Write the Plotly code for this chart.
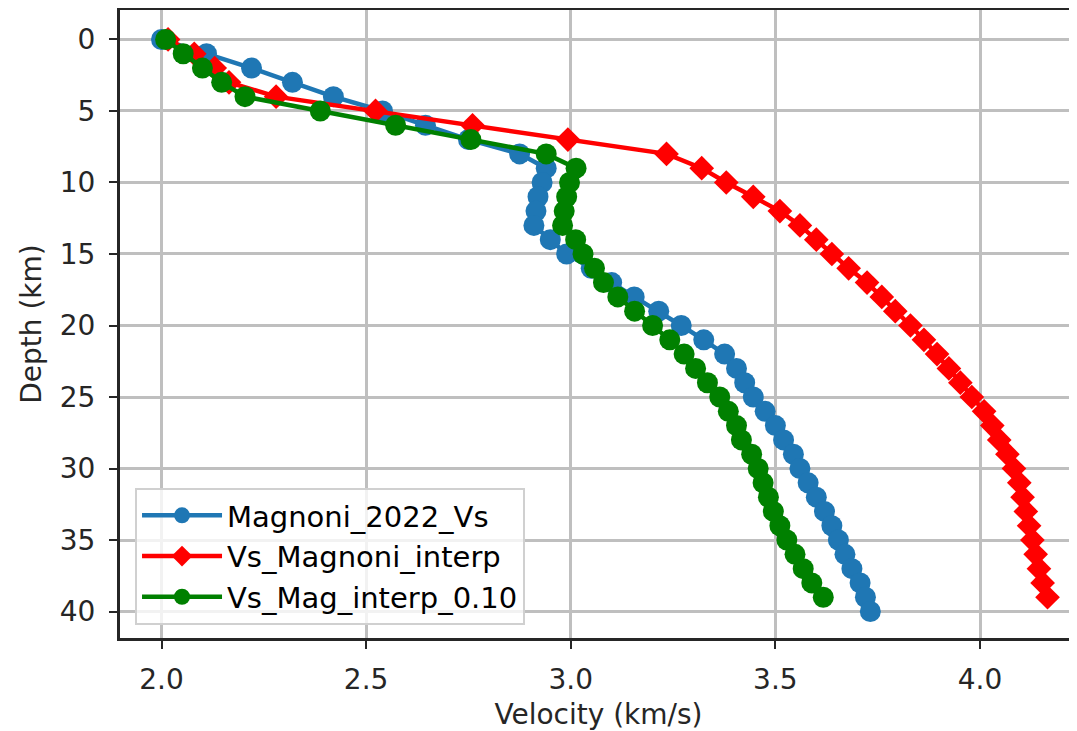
import plotly.graph_objects as go

depth_blue = list(range(0, 41))
vs_magnoni_2022 = [2.00, 2.11, 2.22, 2.32, 2.42, 2.54, 2.645, 2.75, 2.875, 2.94,
                   2.93, 2.92, 2.915, 2.91, 2.95, 2.99, 3.05, 3.10, 3.155, 3.215,
                   3.27, 3.325, 3.376, 3.405, 3.425, 3.446, 3.475, 3.50, 3.52, 3.544,
                   3.56, 3.58, 3.60, 3.62, 3.638, 3.654, 3.67, 3.687, 3.707, 3.72,
                   3.732]

depth_red = list(range(0, 40))
vs_magnoni_interp = [2.016, 2.08, 2.13, 2.165, 2.28, 2.523, 2.76, 2.993, 3.234, 3.32,
                     3.38, 3.446, 3.511, 3.56, 3.60, 3.638, 3.679, 3.724, 3.76, 3.793,
                     3.83, 3.863, 3.895, 3.924, 3.952, 3.98, 4.01, 4.03, 4.047, 4.067,
                     4.083, 4.096, 4.104, 4.112, 4.12, 4.128, 4.136, 4.144, 4.153, 4.165]

depth_green = list(range(0, 40))
vs_mag_interp_010 = [2.01, 2.053, 2.10, 2.147, 2.204, 2.388, 2.572, 2.756, 2.94, 3.013,
                     2.997, 2.99, 2.984, 2.98, 3.012, 3.03, 3.058, 3.08, 3.115, 3.156,
                     3.20, 3.242, 3.277, 3.305, 3.334, 3.364, 3.385, 3.405, 3.417, 3.442,
                     3.458, 3.47, 3.483, 3.495, 3.511, 3.528, 3.548, 3.568, 3.589, 3.617]

x_ticks = [2.0, 2.5, 3.0, 3.5, 4.0]
y_ticks = [0, 5, 10, 15, 20, 25, 30, 35, 40]

FONT = "DejaVu Sans"
fig = go.Figure()
fig.add_trace(go.Scatter(x=vs_magnoni_2022, y=depth_blue, mode="lines+markers",
                         name="Magnoni_2022_Vs",
                         line=dict(color="#1f77b4", width=4.5),
                         marker=dict(symbol="circle", size=21, color="#1f77b4")))
fig.add_trace(go.Scatter(x=vs_magnoni_interp, y=depth_red, mode="lines+markers",
                         name="Vs_Magnoni_interp",
                         line=dict(color="#ff0000", width=4.5),
                         marker=dict(symbol="diamond", size=19, color="#ff0000")))
fig.add_trace(go.Scatter(x=vs_mag_interp_010, y=depth_green, mode="lines+markers",
                         name="Vs_Mag_interp_0.10",
                         line=dict(color="#008000", width=4.5),
                         marker=dict(symbol="circle", size=21, color="#008000")))

axis_common = dict(showgrid=True, gridcolor="#bfbfbf", gridwidth=3,
                   showline=True, linecolor="#262626", linewidth=3,
                   ticks="outside", ticklen=8, tickwidth=2, tickcolor="#262626",
                   tickfont=dict(family=FONT, size=28, color="#262626"),
                   zeroline=False, automargin=False)

fig.update_layout(
    width=1069, height=723,
    margin=dict(l=112, r=0, t=2, b=93, autoexpand=False),
    paper_bgcolor="white", plot_bgcolor="white",
    font=dict(family=FONT, size=28, color="#262626"),
    xaxis=dict(range=[1.8986, 4.237], tickvals=x_ticks, ticktext=[f"{v:.1f}" for v in x_ticks],
               mirror=True, ticklabelstandoff=6,
               title=dict(text="Velocity (km/s)", font=dict(family=FONT, size=28, color="#262626"), standoff=10),
               **axis_common),
    yaxis=dict(range=[41.85, -2.06], tickvals=y_ticks, ticktext=[str(v) for v in y_ticks],
               mirror=False, ticklabelstandoff=8,
               title=dict(text="Depth (km)", font=dict(family=FONT, size=28, color="#262626"), standoff=10),
               **axis_common),
    legend=dict(x=0.0157, y=0.0207, xanchor="left", yanchor="bottom",
                bgcolor="rgba(255,255,255,0.8)", bordercolor="#d0d0d0", borderwidth=2,
                font=dict(family=FONT, size=29, color="#000000"),
                itemwidth=80, tracegroupgap=0),
    showlegend=True,
)

fig.write_html("out.html")
